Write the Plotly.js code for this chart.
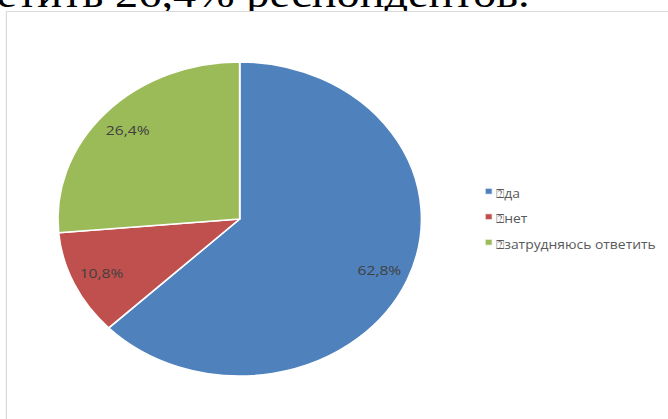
<!DOCTYPE html>
<html>
<head>
<meta charset="utf-8">
<script src="https://cdn.plot.ly/plotly-3.0.1.min.js"></script>
<style>
  html, body { margin:0; padding:0; width:668px; height:419px; overflow:hidden; background:#fff; }
  #wrap { position:absolute; left:0; top:0; width:577px; height:419px; transform:scaleX(1.158); transform-origin:0 0; }
  #toptext { position:absolute; left:-3px; top:-26px; font-family:"Liberation Serif", serif; font-size:40px; line-height:40px; color:#000; white-space:nowrap; }
  #frame { position:absolute; left:5px; top:11px; width:700px; height:500px; border:1px solid #d9d9d9; background:#fff; }
  #chart { position:absolute; left:0; top:0; width:577px; height:419px; }
  #chart .legendpie { transform: translate(34px,0) scale(0.5); }
</style>
</head>
<body>
<div id="wrap">
  <div id="toptext">етить 26,4% респондентов.</div>
  <div id="frame"></div>
  <div id="chart"></div>
</div>
<script>
const categories = ["⍰да", "⍰нет", "⍰затрудняюсь ответить"];
const percentValues = [62.8, 10.8, 26.4];
const percentLabels = ["62,8%", "10,8%", "26,4%"];
const sliceColors = ["#4F81BD", "#C0504D", "#9BBB59"];

const W = 577, H = 419;
const cx = 207, cyTop = 219, R = 157;
const domain = {
  x: [(cx - R) / W, (cx + R) / W],
  y: [(H - cyTop - R) / H, (H - cyTop + R) / H]
};

const legendLabels = categories.map(c => '<span style="font-size:12px">' + c + '</span>');

const pieMain = {
  type: 'pie',
  labels: legendLabels,
  values: percentValues,
  sort: false,
  direction: 'clockwise',
  rotation: 0,
  domain: domain,
  marker: { colors: sliceColors, line: { color: '#ffffff', width: 1.5 } },
  textinfo: 'none',
  hoverinfo: 'none',
  showlegend: true
};

const pieText = {
  type: 'pie',
  labels: percentLabels,
  values: percentValues,
  text: percentLabels,
  sort: false,
  direction: 'clockwise',
  rotation: 0,
  hole: 0.67,
  domain: domain,
  marker: { colors: ['rgba(0,0,0,0)', 'rgba(0,0,0,0)', 'rgba(0,0,0,0)'], line: { width: 0 } },
  textinfo: 'text',
  textposition: 'inside',
  insidetextorientation: 'horizontal',
  textfont: { family: 'Open Sans', size: 13.5, color: '#404040' },
  hoverinfo: 'none',
  showlegend: false
};

const layout = {
  width: W, height: H,
  margin: { l: 0, r: 0, t: 0, b: 0 },
  paper_bgcolor: 'rgba(0,0,0,0)',
  plot_bgcolor: 'rgba(0,0,0,0)',
  showlegend: true,
  legend: {
    x: 388 / W, xanchor: 'left',
    y: (H - 217) / H, yanchor: 'middle',
    font: { family: 'Open Sans', size: 17.3, color: '#595959' },
    bgcolor: 'rgba(0,0,0,0)'
  }
};

Plotly.newPlot('chart', [pieMain, pieText], layout, { staticPlot: true, displayModeBar: false });
</script>
</body>
</html>
